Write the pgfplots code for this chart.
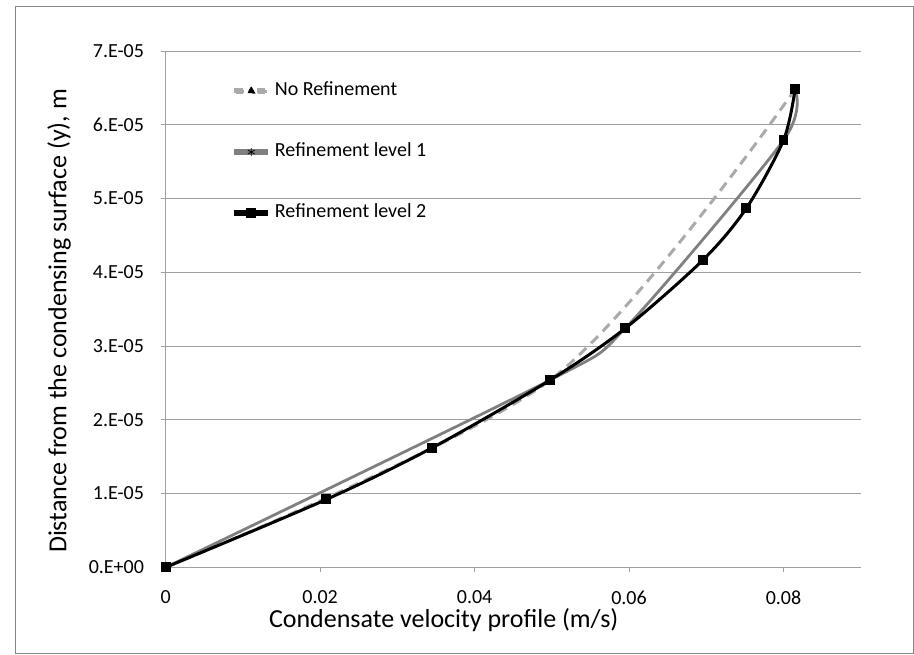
\documentclass[border=0pt]{standalone}
\usepackage{fontspec}
\setmainfont{Carlito}
\usepackage{pgfplots}
\pgfplotsset{compat=1.18}

\definecolor{gridgray}{RGB}{160,160,160}
\definecolor{framegray}{RGB}{134,134,134}
\definecolor{lvlone}{RGB}{128,128,128}
\definecolor{noref}{RGB}{170,170,170}

% Velocity profile across the condensate film: x = velocity (m/s), y = distance (m)
\pgfplotstableread{
u       y
0       0
0.0498  2.54e-5
0.0815  6.48e-5
}\norefinement
\pgfplotstableread{
u       y
0       0
0.0498  2.54e-5
0.0595  3.24e-5
0.0800  5.79e-5
0.0815  6.48e-5
}\levelone
\pgfplotstableread{
u       y
0       0
0.0208  9.2e-6
0.0345  1.62e-5
0.0498  2.54e-5
0.0595  3.24e-5
0.0696  4.17e-5
0.0752  4.87e-5
0.0800  5.79e-5
0.0815  6.48e-5
}\leveltwo

\begin{document}
\begin{tikzpicture}
\begin{scope}[x=0.75pt,y=0.75pt]
  \path[use as bounding box] (0,0) rectangle (914,654);
  \draw[framegray, line width=0.75pt] (15,1) rectangle (913,647);
\end{scope}
\begin{axis}[
  at={(124.28pt,65.03pt)}, anchor=south west,
  scale only axis, width=521.25pt, height=387.2pt,
  xmin=0, xmax=0.09, ymin=0, ymax=7e-5,
  axis x line*=bottom, axis y line*=left,
  axis line style={-, draw=gridgray, line width=0.75pt},
  xtick={0,0.02,0.04,0.06,0.08},
  xticklabels={0,0.02,0.04,0.06,0.08},
  ytick={0,1e-5,2e-5,3e-5,4e-5,5e-5,6e-5,7e-5},
  yticklabels={0.E+00,1.E-05,2.E-05,3.E-05,4.E-05,5.E-05,6.E-05,7.E-05},
  scaled y ticks=false, scaled x ticks=false,
  tick align=outside, major tick length=3.75pt,
  tick style={draw=gridgray, line width=0.75pt},
  ymajorgrids=true, xmajorgrids=false,
  major grid style={draw=gridgray, line width=0.75pt},
  tick label style={font=\fontsize{15}{18}\selectfont},
  xticklabel style={yshift=-10.5pt},
  yticklabel style={xshift=-9pt},
  label style={font=\fontsize{19.5}{23}\selectfont},
  xlabel={Condensate velocity profile (m/s)},
  ylabel={Distance from the condensing surface (y), m},
  xlabel style={at={(axis description cs:0.40,-0.102)}, anchor=center},
  ylabel style={at={(axis description cs:-0.1535,0.477)}, anchor=center},
  legend style={
    at={(axis description cs:0.0983,0.941)}, anchor=north west,
    draw=none, fill=none, inner sep=0pt,
    font=\fontsize{15}{18}\selectfont,
    row sep=31.7pt,
    nodes={inner sep=0pt, text height=10.5pt, text depth=3.5pt},
  },
  legend cell align=left,
  clip=false,
]
\addplot[noref, line width=2.25pt, dash pattern=on 7.5pt off 5pt, smooth,
  mark=triangle*, mark size=3.2pt, mark options={solid, fill=black, draw=black, line width=0.5pt},
  legend image code/.code={
    \fill[noref] (0pt,-1.15pt) rectangle (6.5pt,1.15pt);
    \fill[noref] (16.75pt,-1.15pt) rectangle (23.25pt,1.15pt);
    \path plot[mark=triangle*, mark size=3.2pt, mark options={fill=black, draw=black, line width=0.5pt}] coordinates {(11.6pt,0pt)};
    \node[anchor=west] at (23.25pt,0pt) {\hspace*{5pt}};
  }]
  table[x=u, y=y] {\norefinement};
\addlegendentry{No Refinement}
\addplot[lvlone, line width=2.1pt, smooth, tension=0.45,
  mark=asterisk, mark size=3pt, mark options={solid, draw=black, line width=0.6pt},
  legend image code/.code={
    \fill[lvlone] (0pt,-1.1pt) rectangle (23.25pt,1.1pt);
    \path plot[mark=asterisk, mark size=3pt, mark options={draw=black, line width=0.6pt}] coordinates {(11.6pt,0pt)};
    \node[anchor=west] at (23.25pt,0pt) {\hspace*{5pt}};
  }]
  table[x=u, y=y] {\levelone};
\addlegendentry{Refinement level 1}
\addplot[black, line width=2.25pt, smooth,
  mark=square*, mark size=2.6pt, mark options={solid, fill=black, draw=black},
  legend image code/.code={
    \fill[black] (0pt,-1.15pt) rectangle (23.25pt,1.15pt);
    \path plot[mark=square*, mark size=2.6pt, mark options={fill=black, draw=black}] coordinates {(11.6pt,0pt)};
    \node[anchor=west] at (23.25pt,0pt) {\hspace*{5pt}};
  }]
  table[x=u, y=y] {\leveltwo};
\addlegendentry{Refinement level 2}
\end{axis}
\end{tikzpicture}
\end{document}
